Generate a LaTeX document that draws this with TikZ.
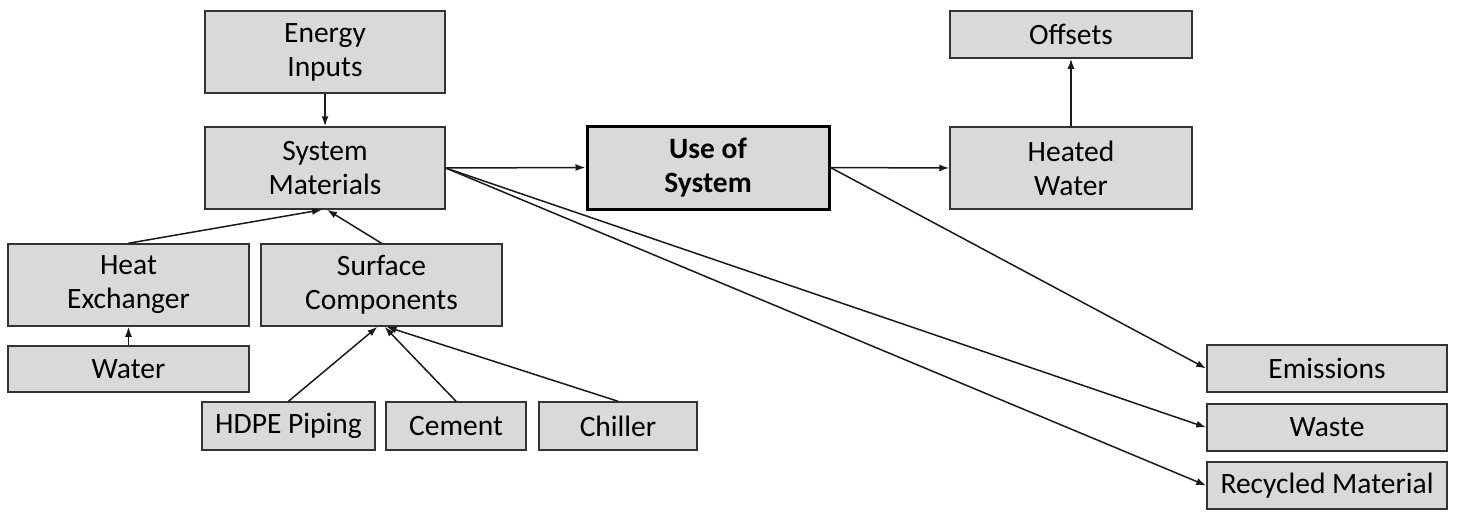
\documentclass[tikz,border=0pt]{standalone}
\usepackage{fontspec}
\setmainfont{Carlito}
\usetikzlibrary{arrows.meta}
\begin{document}
\begin{tikzpicture}[x=1pt,y=-1pt,
  box/.style={draw=black!80,line width=1.5pt,fill=black!15,inner sep=0pt,align=center,
    font=\fontsize{29.5}{34}\selectfont},
  conn/.style={line width=1.5pt,draw=black!90,-{Latex[length=10pt,width=7pt]}}]
\useasboundingbox (0,0) rectangle (1457,512);
\node[box,minimum width=240pt,minimum height=82pt] (energy) at (325,52) {Energy\\Inputs};
\node[box,minimum width=240pt,minimum height=82pt] (sysmat) at (325,168) {System\\Materials};
\node[box,minimum width=242pt,minimum height=83pt,line width=3pt,draw=black,font=\fontsize{29.5}{34}\selectfont\bfseries] (use) at (708,167.5) {Use of\\System};
\node[box,minimum width=242pt,minimum height=82pt] (heated) at (1071,168) {Heated\\Water};
\node[box,minimum width=242pt,minimum height=47pt] (offsets) at (1071,34.5) {Offsets};
\node[box,minimum width=241pt,minimum height=82pt] (heatex) at (128.5,285) {Heat\\Exchanger};
\node[box,minimum width=241pt,minimum height=82pt] (surface) at (381.5,285) {Surface\\Components};
\node[box,minimum width=241pt,minimum height=46pt] (water) at (128.5,369) {Water};
\node[box,minimum width=173pt,minimum height=48pt] (hdpe) at (288.5,426) {HDPE Piping};
\node[box,minimum width=140pt,minimum height=48pt] (cement) at (456,426) {Cement};
\node[box,minimum width=158pt,minimum height=48pt] (chiller) at (618,426) {Chiller};
\node[box,minimum width=240pt,minimum height=47pt] (emissions) at (1327,368.5) {Emissions};
\node[box,minimum width=240pt,minimum height=47pt] (waste) at (1327,427.5) {Waste};
\node[box,minimum width=240pt,minimum height=47pt] (recycled) at (1327,485.5) {Recycled Material};

\draw[conn] (energy.south) -- (sysmat.north);
\draw[conn] (heatex.north) -- ([xshift=-3pt]sysmat.south);
\draw[conn] (surface.north) -- ([xshift=2pt]sysmat.south);
\draw[conn] (water.north) -- (heatex.south);
\draw[conn] (hdpe.north) -- ([xshift=-4pt]surface.south);
\draw[conn] (cement.north) -- ([xshift=3pt]surface.south);
\draw[conn] (chiller.north) -- ([xshift=5pt]surface.south);
\draw[conn] (sysmat.east) -- (use.west);
\draw[conn] (use.east) -- (heated.west);
\draw[conn] (heated.north) -- (offsets.south);
\draw[conn] (use.east) -- (emissions.west);
\draw[conn] (sysmat.east) -- (waste.west);
\draw[conn] (sysmat.east) -- (recycled.west);
\end{tikzpicture}
\end{document}
